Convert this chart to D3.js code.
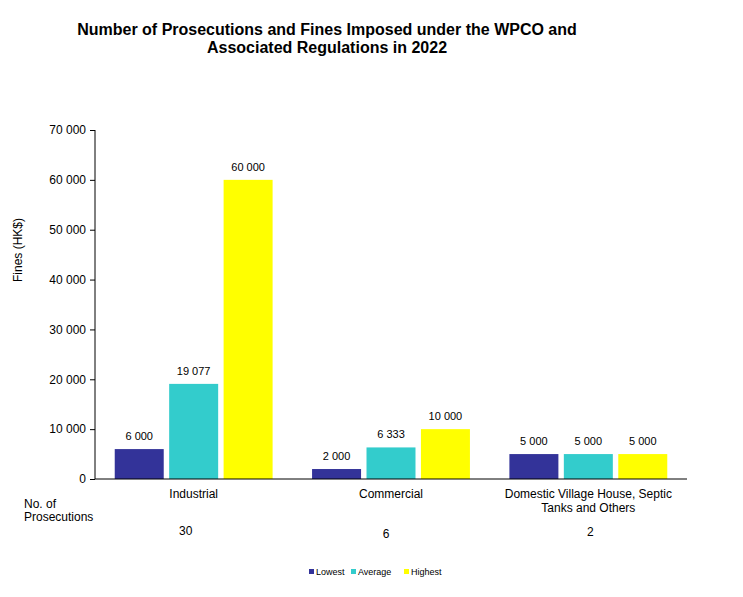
<!DOCTYPE html>
<html>
<head>
<meta charset="utf-8">
<script src="https://cdn.jsdelivr.net/npm/d3@7"></script>
<style>
body { margin: 0; background: #fff; }
text { font-family: "Liberation Sans", Arial, sans-serif; fill: #000; }
</style>
</head>
<body>
<svg width="743" height="597"></svg>
<script>
let categories = [["Industrial"], ["Commercial"], ["Domestic Village House, Septic", "Tanks and Others"]];
let series = ["Lowest", "Average", "Highest"];
let lowest = [6000, 2000, 5000];
let average = [19077, 6333, 5000];
let highest = [60000, 10000, 5000];
let prosecutions = [30, 6, 2];
let colours = ["#333399", "#33cccc", "#ffff00"];

let svg = d3.select("svg");
let plotLeft = 95, plotRight = 687, plotTop = 130, plotBottom = 479;

let x = d3.scaleBand().domain(d3.range(categories.length)).range([plotLeft, plotRight]).paddingInner(0.2).paddingOuter(0.1);
let xs = d3.scaleBand().domain(series).range([0, x.bandwidth()]).paddingInner(0.1);
let y = d3.scaleLinear().domain([0, 70000]).range([plotBottom, plotTop]);

let fmt = v => d3.format(",")(v).replace(/,/g, " ");

// title
svg.append("text").attr("x", 327).attr("y", 35).attr("text-anchor", "middle")
    .style("font-size", "16px").style("font-weight", "bold")
    .text("Number of Prosecutions and Fines Imposed under the WPCO and");
svg.append("text").attr("x", 327).attr("y", 53).attr("text-anchor", "middle")
    .style("font-size", "16px").style("font-weight", "bold")
    .text("Associated Regulations in 2022");

// y axis
let yAxis = svg.append("g").attr("transform", `translate(${plotLeft},0)`)
    .call(d3.axisLeft(y).tickValues(d3.range(0, 70001, 10000)).tickSize(5).tickPadding(4).tickFormat(fmt));
yAxis.selectAll("text").style("font-size", "12px").style("font-family", "Liberation Sans, Arial");
yAxis.select(".domain").attr("d", `M0,${plotTop}V${plotBottom}`);

svg.append("text").attr("transform", "translate(22,250) rotate(-90)").attr("text-anchor", "middle")
    .style("font-size", "12px").text("Fines (HK$)");

// bars
let rows = categories.map((c, i) => [lowest[i], average[i], highest[i]]);
let groups = svg.selectAll("g.cat").data(rows).enter().append("g")
    .attr("transform", (d, i) => `translate(${x(i)},0)`);
groups.selectAll("rect").data(d => d).enter().append("rect")
    .attr("x", (d, j) => xs(series[j])).attr("width", xs.bandwidth())
    .attr("y", d => y(d)).attr("height", d => plotBottom - y(d))
    .attr("fill", (d, j) => colours[j]);
groups.selectAll("text").data(d => d).enter().append("text")
    .attr("x", (d, j) => xs(series[j]) + xs.bandwidth() / 2).attr("y", d => y(d) - 9)
    .attr("text-anchor", "middle").style("font-size", "11px").text(fmt);

// x axis line
svg.append("line").attr("x1", plotLeft).attr("x2", plotRight).attr("y1", plotBottom).attr("y2", plotBottom).attr("stroke", "#000");

// category labels
categories.forEach((c, i) => {
    c.forEach((line, k) => {
        svg.append("text").attr("x", x(i) + x.bandwidth() / 2).attr("y", 498 + k * 14)
            .attr("text-anchor", "middle").style("font-size", "12px").text(line);
    });
});

// prosecutions
svg.append("text").attr("x", 24).attr("y", 508).style("font-size", "12px").text("No. of");
svg.append("text").attr("x", 24).attr("y", 521).style("font-size", "12px").text("Prosecutions");
let py = [535, 538, 536];
let pdx = [-8, -5, 2];
prosecutions.forEach((p, i) => {
    svg.append("text").attr("x", x(i) + x.bandwidth() / 2 + pdx[i]).attr("y", py[i])
        .attr("text-anchor", "middle").style("font-size", "12px").text(p);
});

// legend
let legendX = [309, 351, 404];
series.forEach((s, j) => {
    svg.append("rect").attr("x", legendX[j]).attr("y", 569).attr("width", 5).attr("height", 5).attr("fill", colours[j]);
    svg.append("text").attr("x", legendX[j] + 7).attr("y", 575).style("font-size", "9px").text(s);
});
</script>
</body>
</html>
